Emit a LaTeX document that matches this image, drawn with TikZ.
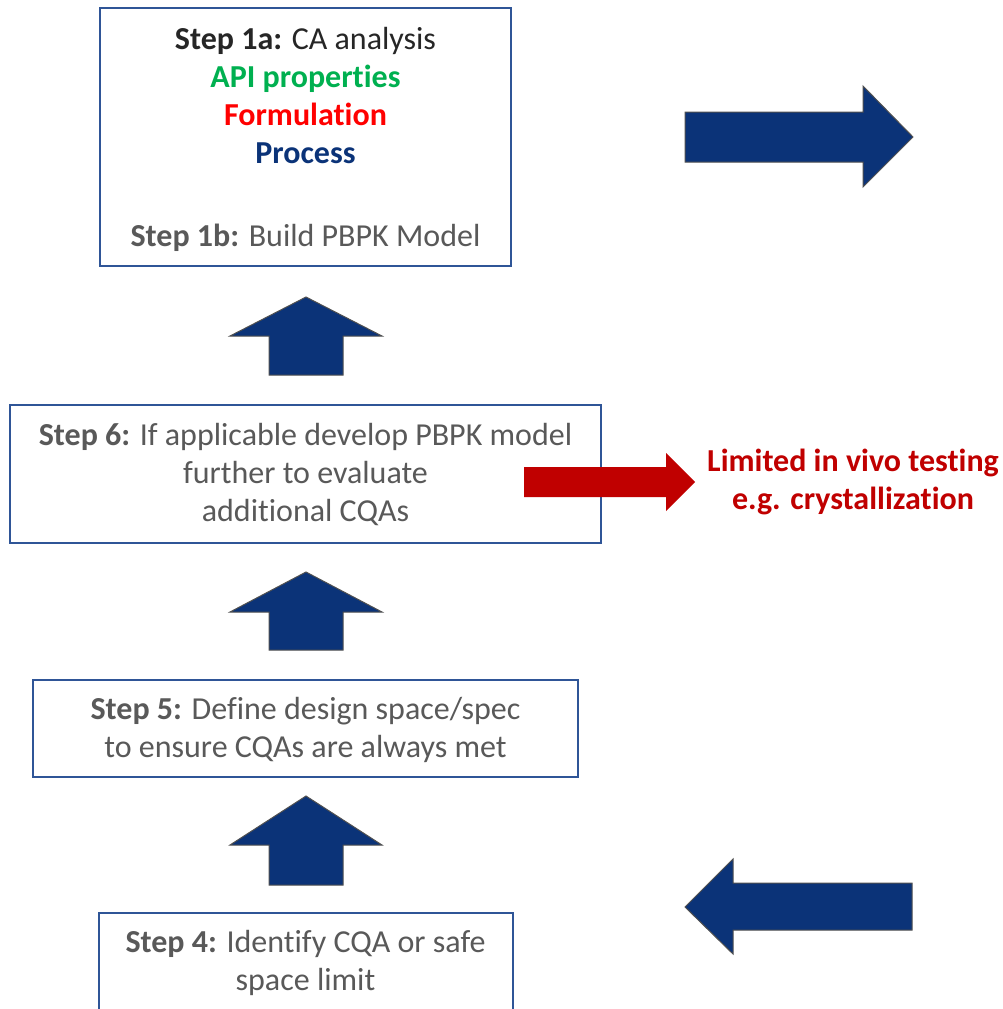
\documentclass[tikz,border=0pt]{standalone}
\usepackage{fontspec}
\setmainfont{Carlito}[Ligatures={NoCommon,NoContextual}]
\definecolor{navy}{RGB}{11,51,120}
\definecolor{boxblue}{RGB}{47,85,151}
\definecolor{outlinegray}{RGB}{80,80,80}
\definecolor{darktext}{RGB}{38,38,38}
\definecolor{graytext}{RGB}{89,89,89}
\definecolor{apigreen}{RGB}{0,176,80}
\definecolor{formred}{RGB}{255,0,0}
\definecolor{darkred}{RGB}{192,0,0}
\begin{document}
\begin{tikzpicture}[x=1pt,y=-1pt,
  stepbox/.style={draw=boxblue,line width=1.3pt,fill=white},
  steptext/.style={align=center,inner sep=0pt,text=graytext,
    font=\fontsize{32}{38}\selectfont},
  blockarrow/.style={fill=navy,draw=outlinegray,line width=1pt,line join=miter},
  redarrow/.style={fill=darkred,draw=none}]
\useasboundingbox (0,0) rectangle (1003,1009);
\clip (0,0) rectangle (1003,1009);

% step boxes
\draw[stepbox] (100,8) rectangle (511,266);
\draw[stepbox] (10,405) rectangle (601,543);
\draw[stepbox] (33,680) rectangle (578,777);
\draw[stepbox] (99,913) rectangle (513,1030);

% box texts
\node[steptext] (s1a) at (305.5,95.5) {%
  {\color{darktext}\textbf{Step 1a:} CA analysis}\\
  {\color{apigreen}\textbf{API properties}}\\
  {\color{formred}\textbf{Formulation}}\\
  {\color{navy}\textbf{Process}}};
\node[steptext] (s1b) at (305.5,238) {\textbf{Step 1b:} Build PBPK Model};
\node[steptext] (s6) at (305.5,474.5) {\textbf{Step 6:} If applicable develop PBPK model\\
  further to evaluate\\ additional CQAs};
\node[steptext] (s5) at (305.5,730) {\textbf{Step 5:} Define design space/spec\\
  to ensure CQAs are always met};
\node[steptext] (s4) at (305.5,963) {\textbf{Step 4:} Identify CQA or safe\\ space limit};

% red side note
\node[align=center,inner sep=0pt,text=darkred,
  font=\fontsize{32}{38}\selectfont\bfseries] (note) at (853,482)
  {Limited in vivo testing\\ e.g. crystallization};

% upward block arrows between boxes
\draw[blockarrow] (269,375) -- (269,336) -- (230,336) -- (306,297) -- (382,336)
  -- (343,336) -- (343,375) -- cycle;
\draw[blockarrow] (269,650) -- (269,612) -- (230,612) -- (306,572) -- (382,612)
  -- (343,612) -- (343,650) -- cycle;
\draw[blockarrow] (269,885) -- (269,845) -- (230,845) -- (306,796) -- (382,845)
  -- (343,845) -- (343,885) -- cycle;

% right-pointing block arrow at the top
\draw[blockarrow] (685,112) -- (863,112) -- (863,86) -- (913,137) -- (863,187)
  -- (863,162) -- (685,162) -- cycle;

% left-pointing block arrow at the bottom
\draw[blockarrow] (912,883) -- (733,883) -- (733,859) -- (685,907) -- (733,954)
  -- (733,930) -- (912,930) -- cycle;

% red arrow towards the side note
\fill[redarrow] (524,467) -- (666,467) -- (666,453) -- (695,482) -- (666,511)
  -- (666,497) -- (524,497) -- cycle;
\end{tikzpicture}
\end{document}
